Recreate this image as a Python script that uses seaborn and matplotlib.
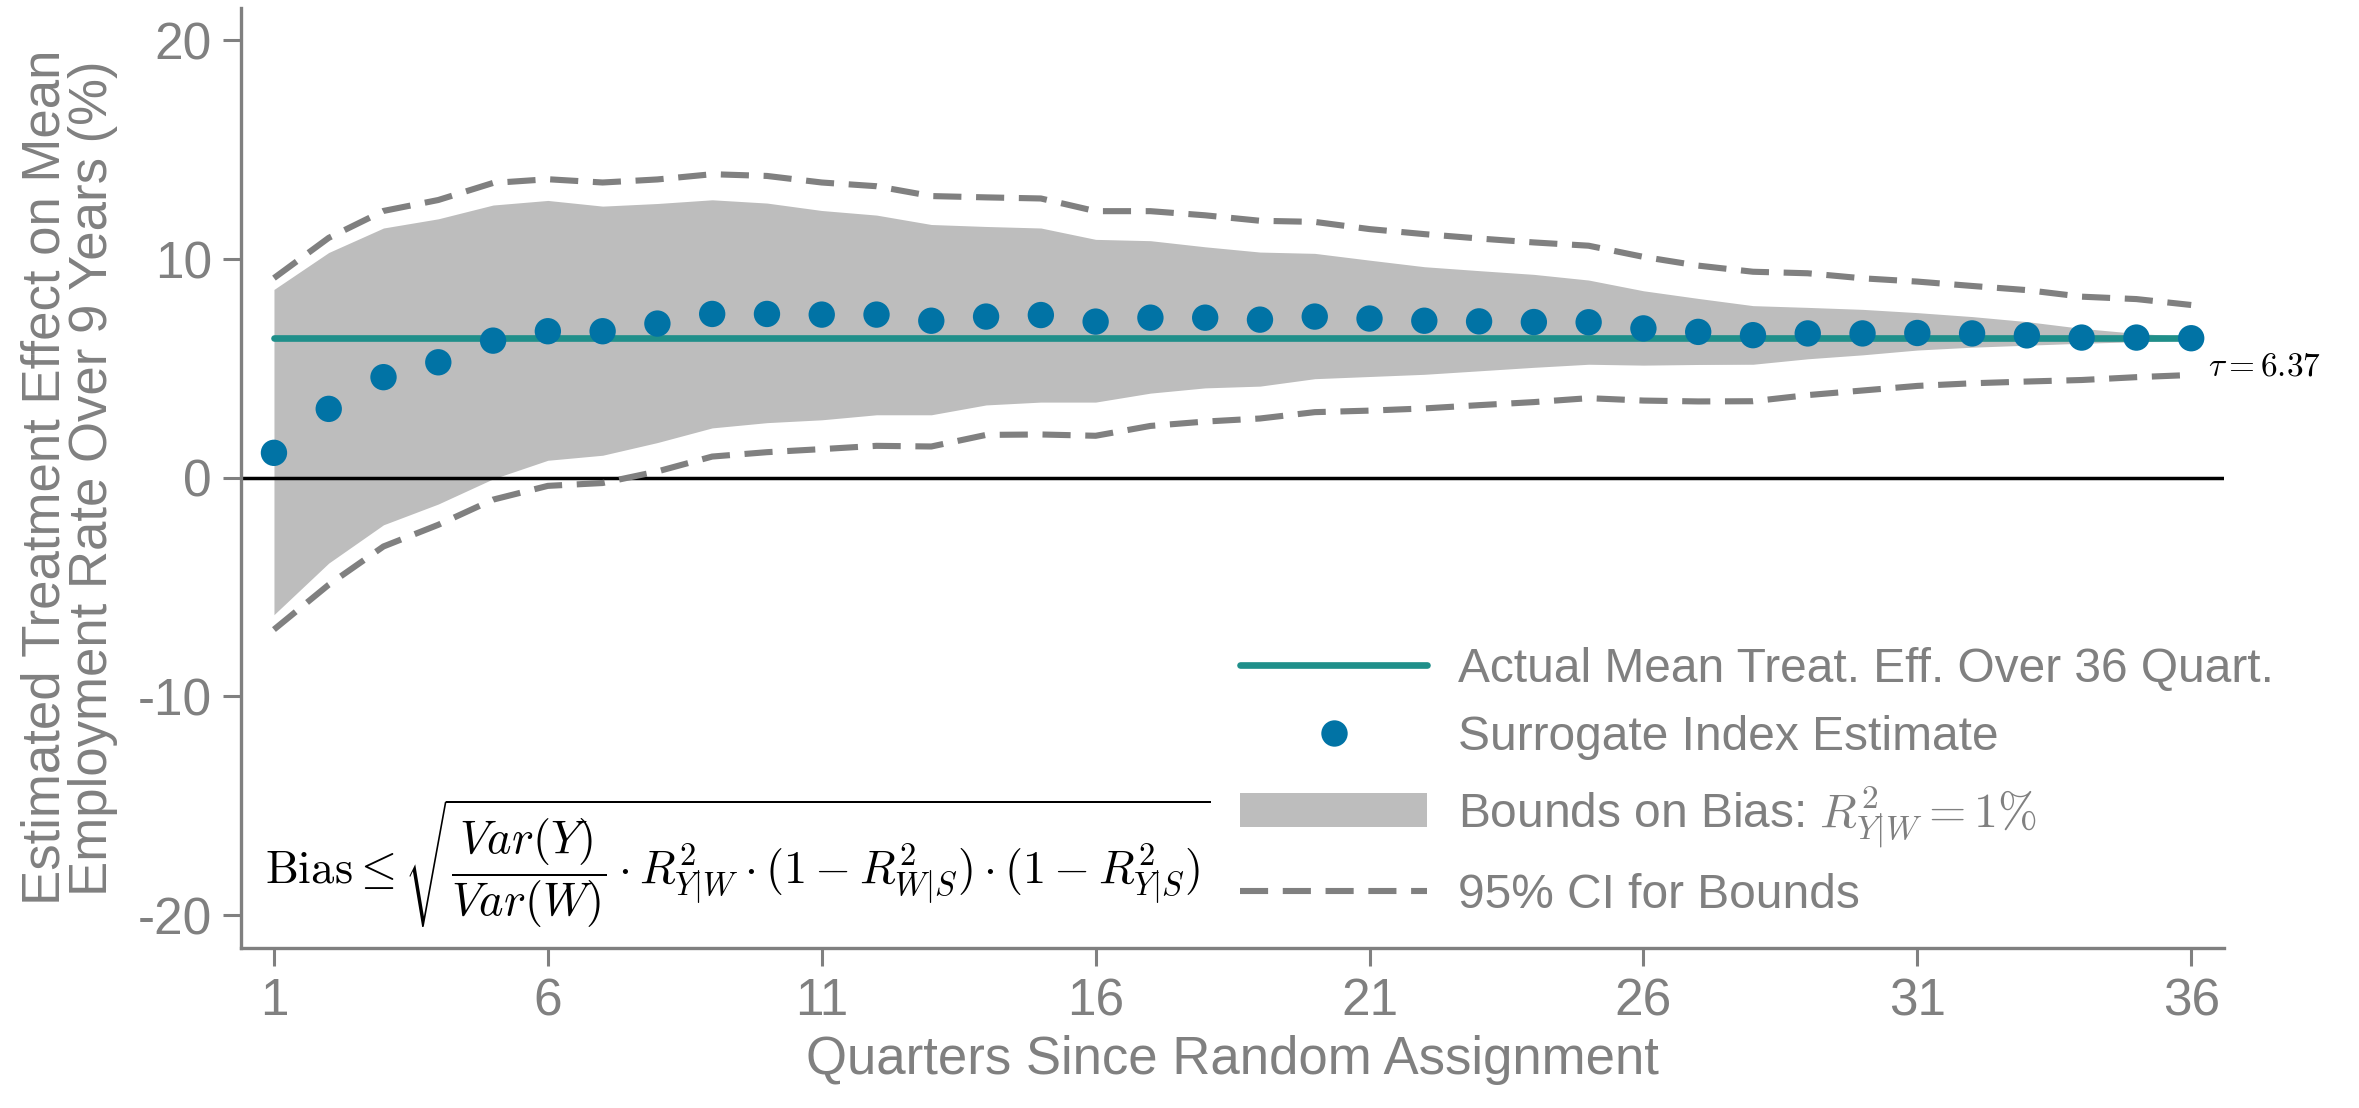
import matplotlib
matplotlib.use("Agg")
import matplotlib.pyplot as plt
import seaborn as sns
import pandas as pd
from matplotlib.lines import Line2D
from matplotlib.patches import Patch

# ---------------- data ----------------
quarters = [1, 2, 3, 4, 5, 6, 7, 8, 9, 10, 11, 12, 13, 14, 15, 16, 17, 18,
            19, 20, 21, 22, 23, 24, 25, 26, 27, 28, 29, 30, 31, 32, 33, 34, 35, 36]
surrogate = [1.14, 3.15, 4.60, 5.28, 6.27, 6.70, 6.70, 7.05, 7.49, 7.49, 7.46, 7.46,
             7.18, 7.37, 7.44, 7.14, 7.32, 7.32, 7.23, 7.37, 7.28, 7.18, 7.15, 7.12,
             7.11, 6.83, 6.67, 6.52, 6.60, 6.60, 6.62, 6.60, 6.51, 6.41, 6.41, 6.38]
bound_upper = [8.61, 10.30, 11.42, 11.84, 12.47, 12.68, 12.42, 12.54, 12.71, 12.56, 12.22, 12.01,
               11.58, 11.49, 11.42, 10.90, 10.84, 10.56, 10.32, 10.26, 9.95, 9.65, 9.47, 9.30,
               9.04, 8.55, 8.20, 7.87, 7.79, 7.70, 7.55, 7.37, 7.14, 6.83, 6.60, 6.45]
bound_lower = [-6.26, -3.90, -2.15, -1.20, -0.05, 0.80, 1.03, 1.61, 2.28, 2.52, 2.65, 2.88,
               2.88, 3.33, 3.46, 3.46, 3.87, 4.11, 4.19, 4.53, 4.63, 4.73, 4.89, 5.05,
               5.19, 5.15, 5.18, 5.19, 5.44, 5.62, 5.84, 5.97, 6.06, 6.15, 6.22, 6.30]
ci_upper = [9.13, 10.97, 12.20, 12.70, 13.48, 13.65, 13.50, 13.64, 13.88, 13.80, 13.50, 13.33,
            12.88, 12.82, 12.77, 12.19, 12.19, 12.00, 11.75, 11.70, 11.37, 11.14, 10.94, 10.76,
            10.61, 10.10, 9.70, 9.42, 9.35, 9.12, 8.97, 8.77, 8.58, 8.28, 8.17, 7.90]
ci_lower = [-6.94, -4.89, -3.14, -2.15, -1.00, -0.37, -0.24, 0.29, 0.97, 1.17, 1.31, 1.46,
            1.43, 1.96, 1.98, 1.92, 2.37, 2.57, 2.71, 3.00, 3.07, 3.17, 3.32, 3.46,
            3.64, 3.53, 3.49, 3.50, 3.78, 3.99, 4.20, 4.32, 4.40, 4.47, 4.60, 4.70]
actual_effect = 6.37
x_ticks = [1, 6, 11, 16, 21, 26, 31, 36]
y_ticks = [-20, -10, 0, 10, 20]

legend_labels = ["Actual Mean Treat. Eff. Over 36 Quart.",
                 "Surrogate Index Estimate",
                 r"Bounds on Bias: $R^2_{Y|W} = 1\%$",
                 "95% CI for Bounds"]

# ---------------- style ----------------
sns.set_style("ticks")
GRAY = "#808080"
TEAL = "#1f8f8a"
BLUE = "#0173a5"
FILL = "#bdbdbd"
plt.rcParams["font.family"] = ["Liberation Sans", "DejaVu Sans"]
plt.rcParams["mathtext.fontset"] = "cm"
plt.rcParams["axes.unicode_minus"] = False

df = pd.DataFrame({"quarter": quarters, "surrogate": surrogate,
                   "bound_upper": bound_upper, "bound_lower": bound_lower,
                   "ci_upper": ci_upper, "ci_lower": ci_lower,
                   "actual": [actual_effect] * len(quarters)})

fig = plt.figure(figsize=(23.59, 11.08), dpi=100)
ax = fig.add_axes([0.1022, 0.1444, 0.8406, 0.8488])

ax.fill_between(df["quarter"], df["bound_lower"], df["bound_upper"],
                color=FILL, linewidth=0, zorder=1)
ax.axhline(0, color="black", lw=2.5, zorder=2)
sns.lineplot(data=df, x="quarter", y="ci_upper", ax=ax, color=GRAY, lw=4.4,
             dashes=False, zorder=3)
sns.lineplot(data=df, x="quarter", y="ci_lower", ax=ax, color=GRAY, lw=4.4,
             dashes=False, zorder=3)
for ln in ax.lines[-2:]:
    ln.set_dashes([4.6, 2.4])
sns.lineplot(data=df, x="quarter", y="actual", ax=ax, color=TEAL, lw=4.8, zorder=4)
sns.scatterplot(data=df, x="quarter", y="surrogate", ax=ax, color=BLUE, s=360,
                edgecolor="none", zorder=5)

ax.set_xlim(0.4, 36.6)
ax.set_ylim(-21.5, 21.5)
ax.set_xticks(x_ticks)
ax.set_yticks(y_ticks)
ax.tick_params(axis="both", colors=GRAY, labelsize=37, width=2.2, length=13, pad=8,
               labelcolor=GRAY)
for side in ["left", "bottom"]:
    ax.spines[side].set_color(GRAY)
    ax.spines[side].set_linewidth(2.4)
for side in ["top", "right"]:
    ax.spines[side].set_visible(False)

ax.set_xlabel("Quarters Since Random Assignment", color=GRAY, fontsize=38, labelpad=6)
ax.set_ylabel("Estimated Treatment Effect on Mean\nEmployment Rate Over 9 Years (%)",
              color=GRAY, fontsize=38, linespacing=0.95)
ax.yaxis.set_label_coords(-0.062, 0.5)

ax.text(36.3, 5.07, r"$\tau = 6.37$", fontsize=24, color="black", va="center", ha="left")
ax.text(0.84, -17.65,
        r"$\mathrm{Bias} \leq \sqrt{\dfrac{Var(Y)}{Var(W)} \cdot R^2_{Y|W} \cdot (1 - R^2_{W|S}) \cdot (1 - R^2_{Y|S})}$",
        fontsize=33.5, color="black", va="center", ha="left")

handles = [Line2D([0], [0], color=TEAL, lw=4.8),
           Line2D([0], [0], color=BLUE, marker="o", ls="none", markersize=19,
                  markeredgewidth=0),
           Patch(facecolor=FILL, edgecolor="none"),
           Line2D([0], [0], color=GRAY, lw=4.4, dashes=[4.6, 2.4])]
leg = ax.legend(handles, legend_labels, loc="lower right", bbox_to_anchor=(1.035, 0.012),
                frameon=False, fontsize=34.5, handlelength=3.9, handletextpad=0.65,
                labelspacing=0.48, borderaxespad=0)
for t in leg.get_texts():
    t.set_color(GRAY)

fig.savefig("out.png", dpi=100)
